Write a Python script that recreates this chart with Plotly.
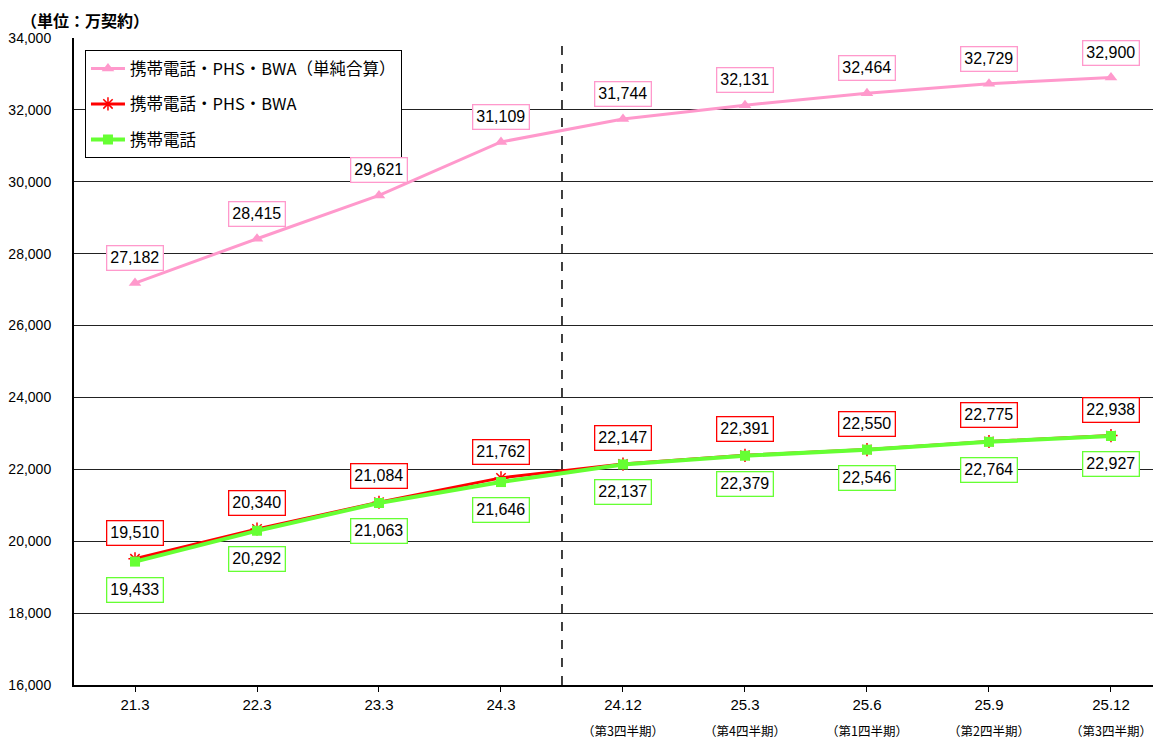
import plotly.graph_objects as go

categories = ["21.3", "22.3", "23.3", "24.3", "24.12", "25.3", "25.6", "25.9", "25.12"]
quarters = ["", "", "", "", "（第3四半期）", "（第4四半期）", "（第1四半期）", "（第2四半期）", "（第3四半期）"]
total_simple = [27182, 28415, 29621, 31109, 31744, 32131, 32464, 32729, 32900]
mobile_phs_bwa = [19510, 20340, 21084, 21762, 22147, 22391, 22550, 22775, 22938]
mobile = [19433, 20292, 21063, 21646, 22137, 22379, 22546, 22764, 22927]
y_ticks = [16000, 18000, 20000, 22000, 24000, 26000, 28000, 30000, 32000, 34000]

PINK = "#FF99CC"
RED = "#FF0000"
GREEN = "#66FF33"
FONT = "Liberation Sans, Noto Sans CJK JP, sans-serif"
JFONT = "Noto Sans CJK JP, Liberation Sans, sans-serif"

xs = list(range(len(categories)))

fig = go.Figure()
fig.add_trace(go.Scatter(
    x=xs, y=total_simple, mode="lines+markers", name="携帯電話・PHS・BWA（単純合算）",
    line=dict(color=PINK, width=3), marker=dict(symbol="triangle-up", size=11, color=PINK),
    legendgroup="a"))
fig.add_trace(go.Scatter(
    x=xs, y=mobile_phs_bwa, mode="lines+markers", name="携帯電話・PHS・BWA",
    line=dict(color=RED, width=3),
    marker=dict(symbol="asterisk-open", size=11, color=RED, line=dict(color=RED, width=1.5)),
    legendgroup="b"))
fig.add_trace(go.Scatter(
    x=xs, y=mobile, mode="lines+markers", name="携帯電話",
    line=dict(color=GREEN, width=4), marker=dict(symbol="square", size=10, color=GREEN),
    legendgroup="c"))

annotations = []
def add_labels(vals, color, shift):
    for i, v in enumerate(vals):
        annotations.append(dict(
            x=i, y=v, xref="x", yref="y", text=f"{v:,}", showarrow=False,
            yshift=shift, font=dict(family=FONT, size=16, color="black"),
            bgcolor="white", bordercolor=color, borderwidth=1.3, borderpad=3))

add_labels(total_simple, PINK, 25)
add_labels(mobile_phs_bwa, RED, 26)
add_labels(mobile, GREEN, -28)

for i, q in enumerate(quarters):
    if q:
        annotations.append(dict(
            x=i, y=-0.071, xref="x", yref="paper", text=q, showarrow=False,
            yanchor="middle", font=dict(family=JFONT, size=12.5, color="black")))

annotations.append(dict(
    x=-0.0505, y=1.028, xref="paper", yref="paper", text="<b>（単位：万契約）</b>",
    showarrow=False, xanchor="left", yanchor="middle",
    font=dict(family=JFONT, size=16, color="black")))

fig.update_layout(
    width=1153, height=732,
    margin=dict(l=64, r=0, t=30, b=55),
    paper_bgcolor="white", plot_bgcolor="white",
    annotations=annotations,
    showlegend=True,
    legend=dict(
        x=0.0101, y=0.981, xanchor="left", yanchor="top",
        bgcolor="white", bordercolor="black", borderwidth=1,
        font=dict(family=JFONT, size=16.5, color="black"),
        traceorder="grouped", tracegroupgap=11, itemwidth=34,
    ),
    shapes=[dict(type="line", x0=3.5, x1=3.5, xref="x", y0=0, y1=1, yref="paper",
                 line=dict(color="black", width=1.5, dash="dash"))],
)

fig.update_xaxes(
    range=[-0.5, 8.41], tickmode="array", tickvals=xs, ticktext=categories,
    showgrid=False, showline=True, linecolor="black", linewidth=2,
    ticks="outside", ticklen=5, tickcolor="black", tickson="boundaries",
    tickfont=dict(family=FONT, size=15, color="black"), zeroline=False,
)
fig.update_yaxes(
    range=[16000, 34000], tickmode="array", tickvals=y_ticks,
    ticktext=[f"{v:,}" for v in y_ticks],
    showgrid=True, gridcolor="#222222", gridwidth=1,
    showline=True, linecolor="black", linewidth=2, ticks="",
    ticklabelstandoff=18,
    tickfont=dict(family=FONT, size=14, color="black"), zeroline=False,
)

fig.write_html("out.html")
